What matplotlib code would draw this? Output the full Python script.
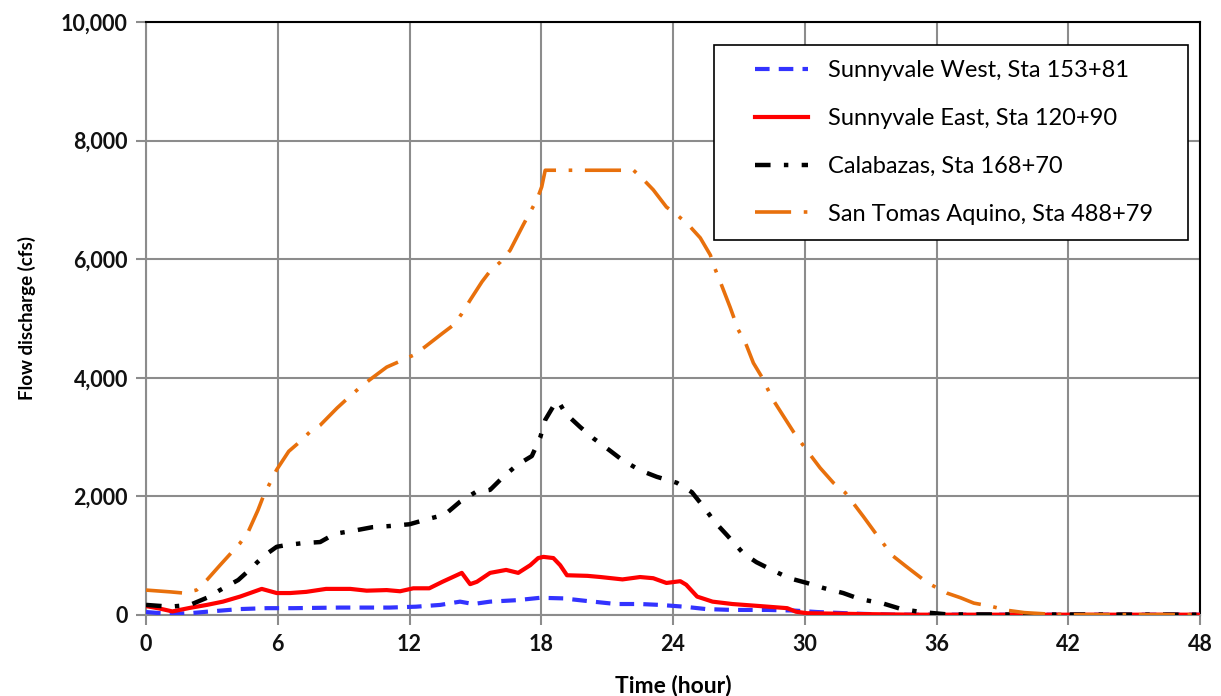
import matplotlib
matplotlib.use("Agg")
import numpy as np
import matplotlib.pyplot as plt
from matplotlib.ticker import FuncFormatter
from matplotlib.legend_handler import HandlerLine2D

plt.rcParams['font.family'] = ['Lato', 'DejaVu Sans']

# ---- data (hours, cfs) ----
sta_t = [0, 1.1, 1.7, 2.3, 2.77, 3.37, 4.28, 4.65, 5.1, 5.33, 5.65, 5.95, 6.5, 7.0, 7.47,
         7.93, 8.7, 9.2, 9.66, 10.2, 10.96, 11.57, 12.17, 12.7, 13.5, 14.0, 14.38, 14.76,
         15.3, 15.67, 16.13, 16.58, 17.18, 17.5, 17.8, 18.02, 18.18, 20.0, 22.2, 22.58,
         23.1, 23.7, 24.17, 24.7, 25.24, 25.7, 25.9, 26.15, 26.6, 26.97, 27.3, 27.66, 28.05,
         28.27, 28.57, 29.0, 29.5, 29.87, 30.25, 30.7, 31.3, 31.85, 32.2, 32.67, 33.3, 34.0,
         34.58, 35.0, 35.6, 36.47, 37.1, 37.7, 38.45, 39.2, 40.0, 40.9, 42.0, 48.0]
sta_q = [420, 390, 370, 420, 590, 840, 1210, 1400, 1770, 1990, 2230, 2450, 2760, 2920, 3090,
         3200, 3490, 3660, 3810, 3970, 4180, 4280, 4380, 4520, 4750, 4890, 5080, 5310,
         5620, 5800, 5950, 6150, 6580, 6800, 7000, 7220, 7500, 7500, 7500, 7370,
         7170, 6880, 6750, 6580, 6360, 6070, 5850, 5620, 5190, 4810, 4590, 4250, 4010,
         3840, 3620, 3370, 3080, 2890, 2700, 2480, 2230, 2060, 1890, 1660, 1340, 1000,
         830, 710, 540, 370, 290, 200, 150, 80, 40, 20, 5, 5]

cal_t = [0, 1.1, 2.0, 2.77, 3.37, 4.2, 4.8, 5.04, 5.42, 5.95, 6.4, 7.1, 7.93, 8.6, 9.44,
         10.3, 11.1, 12.0, 12.85, 13.6, 14.3, 15.0, 15.67, 16.27, 16.9, 17.57, 17.95, 18.18,
         18.63, 18.77, 19.1, 19.77, 20.37, 21.1, 21.7, 22.5, 23.26, 24.17, 24.86, 25.4,
         25.9, 26.45, 27.2, 27.8, 28.5, 29.3, 30.1, 30.85, 31.75, 32.5, 33.6, 34.4, 35.3,
         36.5, 48.0]
cal_q = [170, 140, 170, 290, 420, 590, 790, 880, 1010, 1150, 1180, 1210, 1230, 1370, 1420,
         1480, 1500, 1530, 1620, 1690, 1910, 2070, 2110, 2330, 2530, 2680, 2990, 3290,
         3570, 3610, 3400, 3170, 2980, 2780, 2610, 2440, 2330, 2230, 2070, 1820,
         1570, 1350, 1040, 890, 760, 620, 540, 455, 370, 270, 190, 100, 50,
         10, 5]

sve_t = [0, 0.6, 1.2, 2.0, 2.77, 3.5, 4.28, 4.74, 5.27, 5.95, 6.56, 7.3, 8.2, 9.3, 10.05,
         10.96, 11.57, 12.17, 12.9, 13.5, 14.38, 14.76, 15.07, 15.67, 16.4, 16.95, 17.5,
         17.86, 18.1, 18.55, 18.86, 19.17, 20.1, 20.7, 21.7, 22.5, 23.1, 23.7, 24.33, 24.6,
         25.1, 25.8, 26.7, 27.97, 29.2, 29.6, 30.1, 32.7, 35.0, 48.0]
sve_q = [150, 110, 60, 120, 170, 225, 310, 370, 440, 370, 370, 390, 440, 440, 410,
         420, 400, 450, 450, 560, 710, 520, 560, 710, 760, 710, 840,
         960, 980, 960, 840, 670, 660, 640, 600, 640, 620, 540, 570, 510,
         310, 225, 185, 150, 115, 55, 30, 15, 5, 5]

svw_t = [0, 1.0, 2.0, 2.77, 4.28, 5.5, 6.7, 8.84, 11.1, 12.3, 13.4, 14.3, 14.9, 15.67, 16.9,
         17.95, 19.0, 20.1, 21.4, 22.5, 23.4, 24.5, 25.5, 26.7, 28.3, 29.5, 30.55, 32.5,
         34.0, 48.0]
svw_q = [50, 20, 30, 55, 100, 115, 115, 125, 125, 140, 170, 225, 185, 225, 250,
         290, 280, 235, 185, 185, 170, 140, 100, 85, 85, 75, 50, 20,
         5, 5]

labels = ['Sunnyvale West, Sta 153+81', 'Sunnyvale East, Sta 120+90',
          'Calabazas, Sta 168+70', 'San Tomas Aquino, Sta 488+79']

x_ticks = list(range(0, 49, 6))
y_ticks = list(range(0, 10001, 2000))


class OffsetLineHandler(HandlerLine2D):
    """Legend line drawn only in the right part of the handle box."""
    def __init__(self, start_frac=0.33, **kw):
        super().__init__(**kw)
        self.start_frac = start_frac

    def get_xdata(self, legend, xdescent, ydescent, width, height, fontsize):
        x0 = -xdescent + width * self.start_frac
        x1 = -xdescent + width
        xdata = np.array([x0, x1])
        return xdata, xdata


# ---- figure ----
fig = plt.figure(figsize=(12.21, 6.96), dpi=100)
ax = fig.add_axes([0.1196, 0.1164, 0.8632, 0.852])

grid_c = '#8c8c8c'
l1, = ax.plot(svw_t, svw_q, color='#3333ff', lw=3, linestyle=(0, (3.5, 2.2)), label=labels[0], zorder=3)
l2, = ax.plot(sve_t, sve_q, color='#ff0000', lw=3, linestyle='-', label=labels[1], zorder=3)
l3, = ax.plot(cal_t, cal_q, color='#000000', lw=3.2, linestyle=(0, (3.5, 3, 1, 3)), label=labels[2], zorder=3)
l4, = ax.plot(sta_t, sta_q, color='#e8700c', lw=2.6, linestyle=(0, (10, 3.5, 1, 3.5)), label=labels[3], zorder=3)

ax.set_xlim(0, 48)
ax.set_ylim(0, 10000)
ax.set_xticks(x_ticks)
ax.set_yticks(y_ticks)
ax.yaxis.set_major_formatter(FuncFormatter(lambda v, p: f'{int(v):,}'))
ax.grid(True, color=grid_c, lw=1.5)
ax.set_axisbelow(True)

for s in ['left', 'bottom']:
    ax.spines[s].set_color(grid_c)
    ax.spines[s].set_linewidth(1.5)
for s in ['top', 'right']:
    ax.spines[s].set_color('#000000')
    ax.spines[s].set_linewidth(1.5)

ax.tick_params(axis='both', direction='out', length=7, width=1.5, color=grid_c,
               labelsize=15.5, pad=6)
ax.tick_params(axis='x', pad=7)
for lab in ax.get_xticklabels() + ax.get_yticklabels():
    lab.set_fontweight('bold')
    lab.set_color('#111111')

ax.set_xlabel('Time (hour)', fontsize=16.5, fontweight='bold', labelpad=14)
ax.set_ylabel('Flow discharge (cfs)', fontsize=13.5, fontweight='bold', labelpad=18)

hmap = {h: OffsetLineHandler(start_frac=0.33) for h in (l1, l2, l3, l4)}
leg = ax.legend(handles=[l1, l2, l3, l4], loc='upper left',
                bbox_to_anchor=(0.5389, 0.3, 0.4497, 0.661), mode='expand',
                fontsize=17, frameon=True, fancybox=False, edgecolor='#000000',
                framealpha=1, borderpad=0.63, labelspacing=1.14, handlelength=3.35,
                handletextpad=0.85, borderaxespad=0, handler_map=hmap)
leg.get_frame().set_linewidth(1.2)

fig.savefig('out.png', dpi=100)
